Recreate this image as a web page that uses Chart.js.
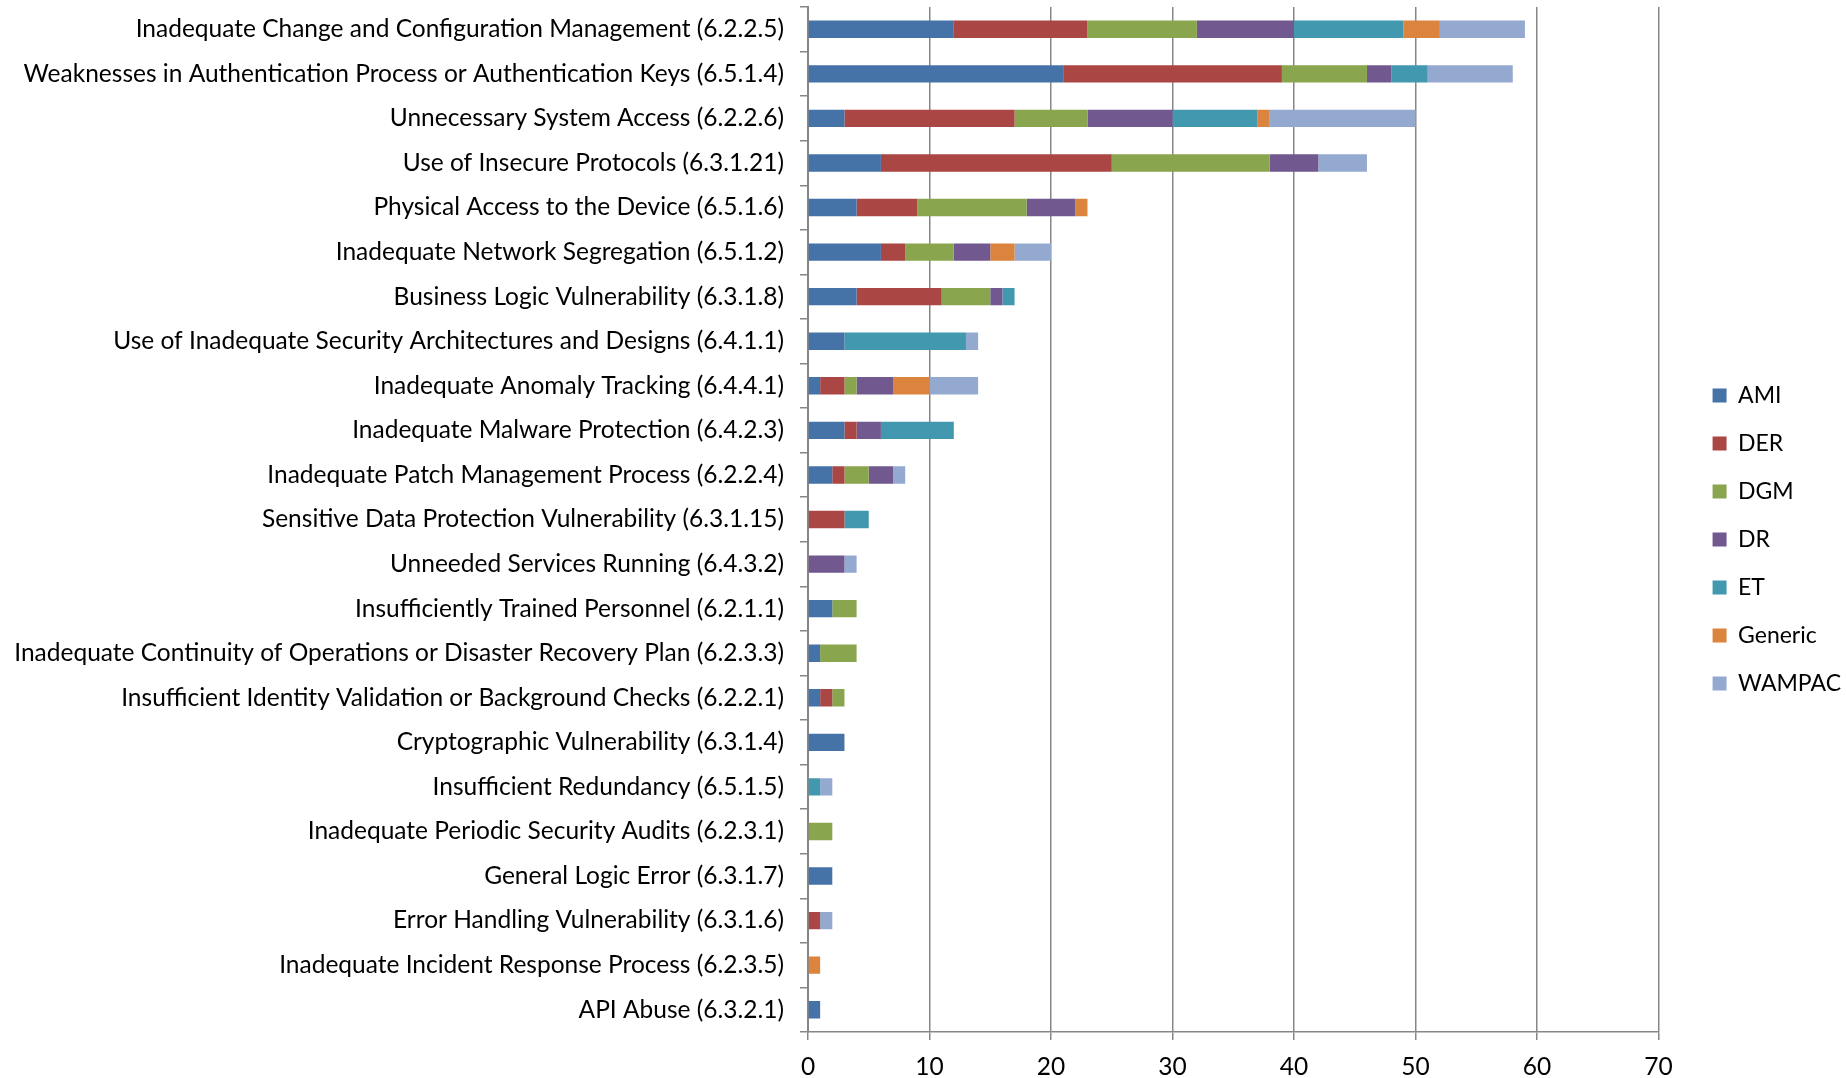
<!DOCTYPE html>
<html>
<head>
<meta charset="utf-8">
<script src="https://cdn.jsdelivr.net/npm/chart.js"></script>
<style>
body{margin:0;background:#fff;}
</style>
</head>
<body>
<canvas id="bar-chart" width="1846" height="1078"></canvas>
<script>
var categorias = [
  "Inadequate Change and Configuration Management (6.2.2.5)",
  "Weaknesses in Authentication Process or Authentication Keys (6.5.1.4)",
  "Unnecessary System Access (6.2.2.6)",
  "Use of Insecure Protocols (6.3.1.21)",
  "Physical Access to the Device (6.5.1.6)",
  "Inadequate Network Segregation (6.5.1.2)",
  "Business Logic Vulnerability (6.3.1.8)",
  "Use of Inadequate Security Architectures and Designs (6.4.1.1)",
  "Inadequate Anomaly Tracking (6.4.4.1)",
  "Inadequate Malware Protection (6.4.2.3)",
  "Inadequate Patch Management Process (6.2.2.4)",
  "Sensitive Data Protection Vulnerability (6.3.1.15)",
  "Unneeded Services Running (6.4.3.2)",
  "Insufficiently Trained Personnel (6.2.1.1)",
  "Inadequate Continuity of Operations or Disaster Recovery Plan (6.2.3.3)",
  "Insufficient Identity Validation or Background Checks (6.2.2.1)",
  "Cryptographic Vulnerability (6.3.1.4)",
  "Insufficient Redundancy (6.5.1.5)",
  "Inadequate Periodic Security Audits (6.2.3.1)",
  "General Logic Error (6.3.1.7)",
  "Error Handling Vulnerability (6.3.1.6)",
  "Inadequate Incident Response Process (6.2.3.5)",
  "API Abuse (6.3.2.1)"
];
var ami     = [12,21, 3, 6,4,6,4, 3,1,3,2,0,0,2,1,1,3,0,0,2,0,0,1];
var der     = [11,18,14,19,5,2,7, 0,2,1,1,3,0,0,0,1,0,0,0,0,1,0,0];
var dgm     = [ 9, 7, 6,13,9,4,4, 0,1,0,2,0,0,2,3,1,0,0,2,0,0,0,0];
var dr      = [ 8, 2, 7, 4,4,3,1, 0,3,2,2,0,3,0,0,0,0,0,0,0,0,0,0];
var et      = [ 9, 3, 7, 0,0,0,1,10,0,6,0,2,0,0,0,0,0,1,0,0,0,0,0];
var generic = [ 3, 0, 1, 0,1,2,0, 0,3,0,0,0,0,0,0,0,0,0,0,0,0,1,0];
var wampac  = [ 7, 7,12, 4,0,3,0, 1,4,0,1,0,1,0,0,0,0,1,0,0,1,0,0];
var ticksX  = [0,10,20,30,40,50,60,70];

var gris = "#868686";
var fuente = {family: "Lato", size: 24.5};
var fuenteLeyenda = {family: "Lato", size: 23};

function serie(nombre, datos, color){
  return {label: nombre, data: datos, backgroundColor: color, borderWidth: 0,
          categoryPercentage: 1, barPercentage: 0.39};
}

// correr la leyenda como en el original
var moverLeyenda = {
  id: "moverLeyenda",
  afterLayout: function(chart){
    chart.legend.left += 29;
    chart.legend.right += 29;
    chart.legend.top -= 3;
    chart.legend.bottom -= 3;
  }
};

new Chart(document.getElementById("bar-chart"), {
  type: "bar",
  data: {
    labels: categorias,
    datasets: [
      serie("AMI", ami, "#4572A7"),
      serie("DER", der, "#AA4643"),
      serie("DGM", dgm, "#89A54E"),
      serie("DR", dr, "#71588F"),
      serie("ET", et, "#4198AF"),
      serie("Generic", generic, "#DB843D"),
      serie("WAMPAC", wampac, "#93A9CF")
    ]
  },
  plugins: [moverLeyenda],
  options: {
    indexAxis: "y",
    responsive: false,
    animation: false,
    devicePixelRatio: 1,
    layout: {padding: {top: 7, right: 24, left: 0, bottom: 0}},
    plugins: {
      tooltip: {enabled: false},
      legend: {
        position: "right",
        labels: {boxWidth: 14, boxHeight: 14, padding: 25, color: "#000", font: fuenteLeyenda}
      }
    },
    scales: {
      x: {
        stacked: true,
        min: 0, max: 70,
        afterBuildTicks: function(s){ s.ticks = ticksX.map(function(v){ return {value: v}; }); },
        afterFit: function(s){ s.height = 46; },
        grid: {color: gris, lineWidth: 1.5, tickLength: 8},
        border: {color: gris, width: 1.5},
        ticks: {color: "#000", font: fuente, padding: 12}
      },
      y: {
        stacked: true,
        afterFit: function(s){ s.width = 808; s.paddingTop = 0; s.paddingBottom = 0; },
        grid: {display: true, drawOnChartArea: false, color: gris, lineWidth: 1.5, tickLength: 8, offset: true},
        border: {color: gris, width: 2},
        ticks: {color: "#000", font: fuente, padding: 16, autoSkip: false}
      }
    }
  }
});
</script>
</body>
</html>
